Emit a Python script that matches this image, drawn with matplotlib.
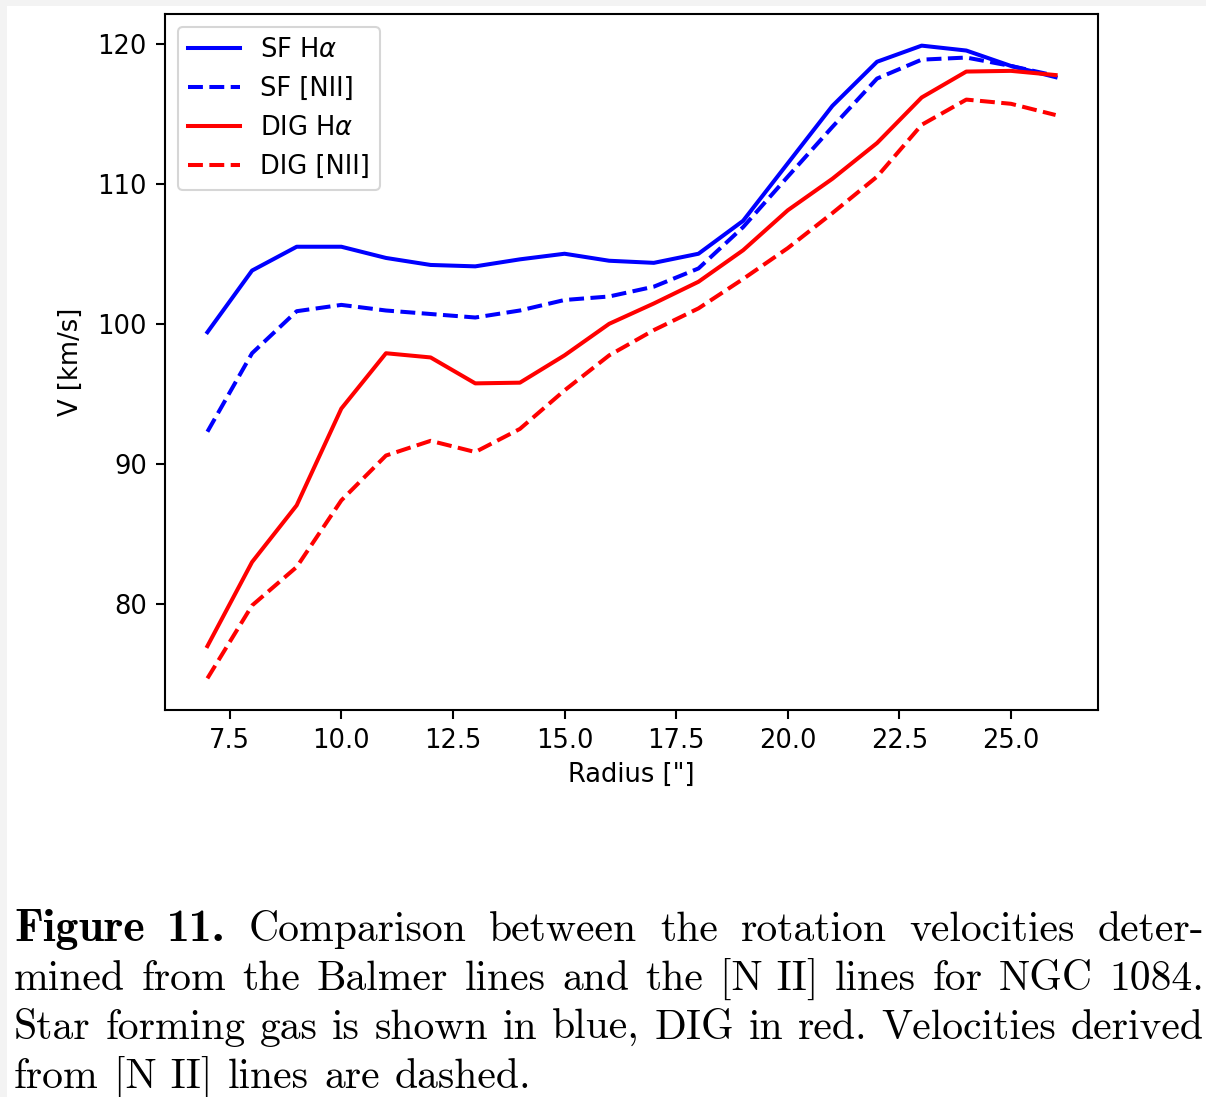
import matplotlib
matplotlib.use("Agg")
import matplotlib.pyplot as plt
from matplotlib.patches import Rectangle

# ---- data ----
radius = [7, 8, 9, 10, 11, 12, 13, 14, 15, 16, 17, 18, 19, 20, 21, 22, 23, 24, 25, 26]
sf_ha = [99.4, 103.8, 105.5, 105.5, 104.7, 104.2, 104.1, 104.6, 105.0, 104.5,
         104.35, 105.0, 107.35, 111.45, 115.55, 118.7, 119.85, 119.5, 118.4, 117.6]
sf_nii = [92.3, 97.9, 100.9, 101.35, 100.95, 100.7, 100.45, 100.95, 101.7, 101.95,
          102.65, 103.95, 106.9, 110.5, 114.05, 117.5, 118.85, 119.0, 118.4, 117.7]
dig_ha = [77.0, 83.0, 87.05, 93.95, 97.9, 97.6, 95.75, 95.8, 97.75, 100.0,
          101.45, 103.0, 105.25, 108.1, 110.35, 112.9, 116.15, 118.0, 118.05, 117.75]
dig_nii = [74.7, 79.9, 82.65, 87.4, 90.6, 91.65, 90.85, 92.5, 95.25, 97.75,
           99.55, 101.1, 103.2, 105.4, 107.9, 110.5, 114.2, 116.0, 115.7, 114.9]
labels = ["SF H$\\alpha$", "SF [NII]", "DIG H$\\alpha$", "DIG [NII]"]
xticks = [7.5, 10.0, 12.5, 15.0, 17.5, 20.0, 22.5, 25.0]
yticks = [80, 90, 100, 110, 120]

caption_lines = [
    ["Figure", "11.", "Comparison", "between", "the", "rotation", "velocities", "deter-"],
    ["mined", "from", "the", "Balmer", "lines", "and", "the", "[N II]", "lines", "for", "NGC", "1084."],
    ["Star", "forming", "gas", "is", "shown", "in", "blue,", "DIG", "in", "red.", "Velocities", "derived"],
    ["from", "[N II]", "lines", "are", "dashed."],
]
bold_words = {(0, 0), (0, 1)}

# ---- figure ----
W, H = 1206, 1097
DPI = 100
fig = plt.figure(figsize=(W / DPI, H / DPI), dpi=DPI)
fig.patch.set_facecolor("white")

# screenshot border strips
fig.patches.append(Rectangle((0, 1 - 6 / H), 1, 6 / H, transform=fig.transFigure,
                             facecolor="#f3f3f3", edgecolor="none", zorder=0))
fig.patches.append(Rectangle((0, 0), 7 / W, 1, transform=fig.transFigure,
                             facecolor="#f3f3f3", edgecolor="none", zorder=0))

L, R, T, B = 165, 1098, 14, 710
ax = fig.add_axes([L / W, 1 - B / H, (R - L) / W, (B - T) / H])

FS = 18.5
LW = 2.9
ax.plot(radius, sf_ha, color="blue", lw=LW, ls="-", label=labels[0])
ax.plot(radius, sf_nii, color="blue", lw=LW, ls="--", label=labels[1])
ax.plot(radius, dig_ha, color="red", lw=LW, ls="-", label=labels[2])
ax.plot(radius, dig_nii, color="red", lw=LW, ls="--", label=labels[3])

ax.set_xticks(xticks)
ax.set_xticklabels([f"{t:.1f}" for t in xticks])
ax.set_yticks(yticks)
ax.tick_params(labelsize=FS, length=6.5, width=1.5, pad=6.5)
for s in ax.spines.values():
    s.set_linewidth(1.5)
ax.set_xlabel('Radius ["]', fontsize=FS, labelpad=6)
ax.set_ylabel("V [km/s]", fontsize=FS, labelpad=10)
leg = ax.legend(loc="upper left", fontsize=FS, framealpha=0.8,
                borderpad=0.4, labelspacing=0.5, handlelength=2.0)
leg.get_frame().set_linewidth(1.5)

# ---- caption, justified ----
CFS = 30
BFS = 33
renderer = fig.canvas.get_renderer()
x_left, x_right = 14, 1204
baselines = [941, 990, 1039, 1088]

def make(word, bold, x=0, y=0):
    return fig.text(x, y, word, fontsize=BFS if bold else CFS,
                    family="cmb10" if bold else "cmr10",
                    transform=None, va="baseline", ha="left")

tmp = make("a a", False)
tmp2 = make("aa", False)
space_nat = tmp.get_window_extent(renderer).width - tmp2.get_window_extent(renderer).width
tmp.remove(); tmp2.remove()

for li, words in enumerate(caption_lines):
    texts = [make(w, (li, wi) in bold_words) for wi, w in enumerate(words)]
    widths = [t.get_window_extent(renderer).width for t in texts]
    if li < len(caption_lines) - 1:
        gap = (x_right - x_left - sum(widths)) / (len(words) - 1)
    else:
        gap = space_nat * 1.1
    x = x_left
    ybase = H - baselines[li]
    for t, w in zip(texts, widths):
        t.set_position((x, ybase))
        x += w + gap

fig.savefig("out.png", dpi=DPI, facecolor="white")
